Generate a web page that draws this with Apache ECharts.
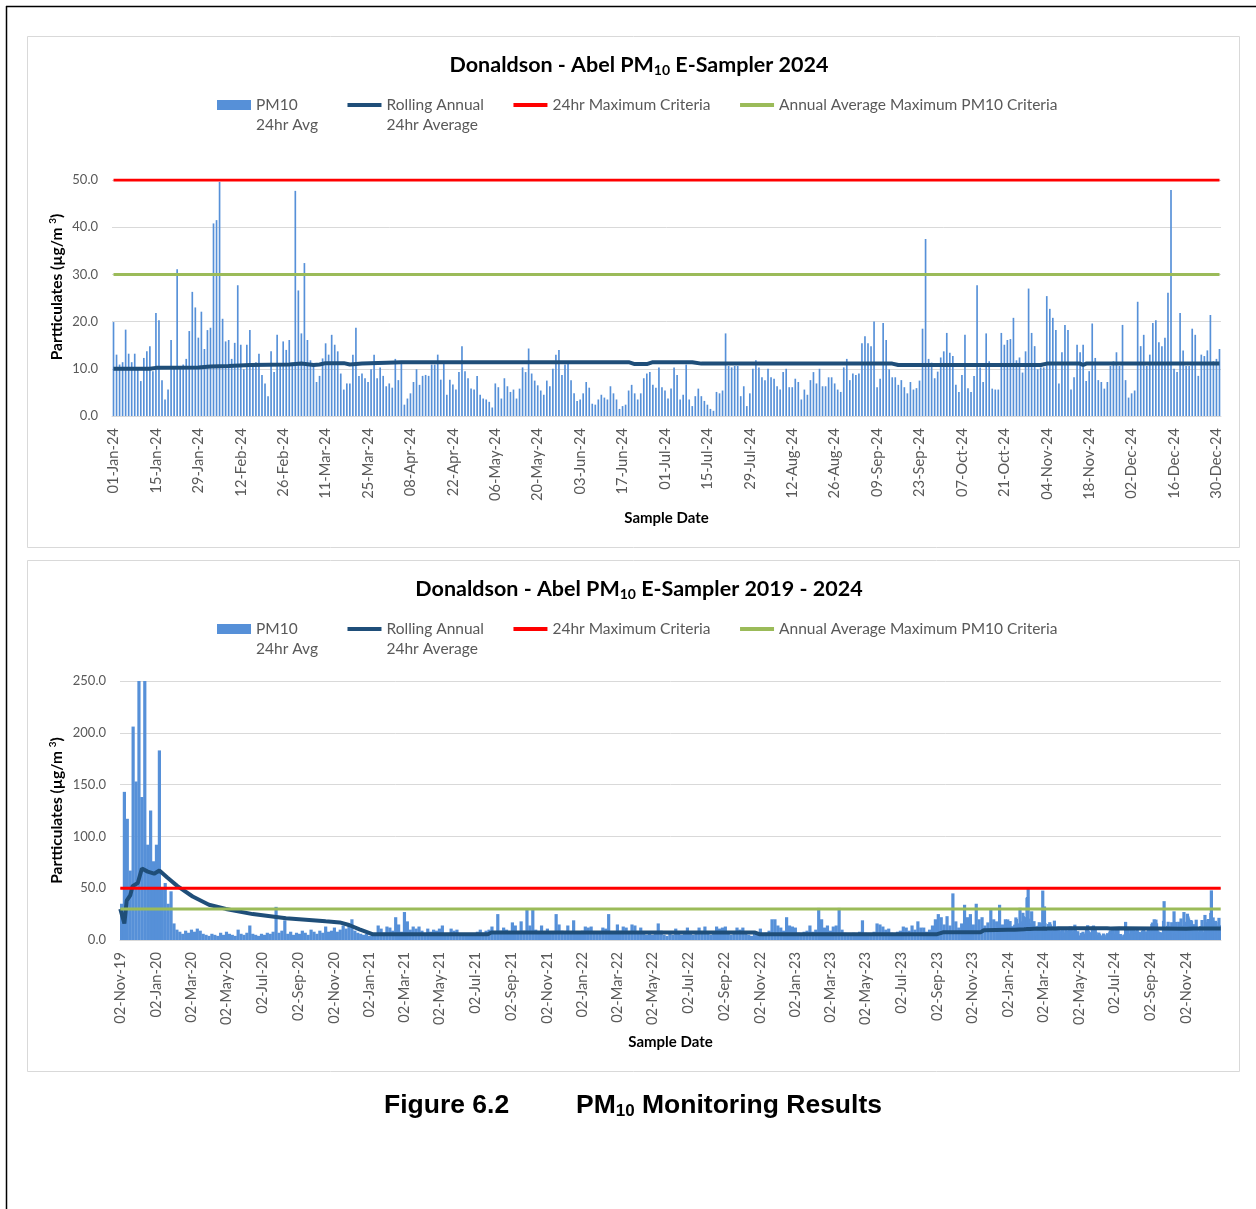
<!DOCTYPE html>
<html>
<head>
<meta charset="utf-8">
<script src="https://cdn.jsdelivr.net/npm/echarts@6/dist/echarts.min.js"></script>
<style>
html, body { margin: 0; padding: 0; background: #fff; }
#chart { width: 1256px; height: 1209px; }
</style>
</head>
<body>
<div id="chart"></div>
<script>
let chart = echarts.init(document.getElementById('chart'));

// daily PM10 24hr average, 01-Jan-24 .. 31-Dec-24
const pm2024 = [
  19.9, 13.0, 10.9, 11.4, 18.3, 13.2, 11.4, 13.2, 9.9, 7.4, 12.3, 13.7, 14.8, 9.5, 21.8, 20.3, 7.6, 3.5, 5.6, 16.1,
  10.5, 31.1, 10.6, 10.9, 12.1, 18.0, 26.3, 23.0, 16.6, 22.1, 14.2, 18.2, 18.7, 40.8, 41.5, 49.6, 20.6, 15.8, 16.1, 12.1,
  15.5, 27.7, 15.1, 9.9, 15.1, 18.2, 10.6, 11.4, 13.2, 8.7, 6.9, 4.2, 13.7, 9.3, 17.2, 11.0, 15.8, 14.0, 16.1, 11.3,
  47.7, 26.6, 17.5, 32.4, 16.1, 11.8, 10.9, 7.2, 8.5, 12.2, 15.4, 13.0, 17.2, 15.1, 13.7, 9.0, 5.6, 6.9, 6.9, 13.0,
  18.7, 8.5, 9.0, 8.0, 7.2, 9.9, 13.0, 8.0, 10.3, 8.5, 6.3, 6.9, 6.0,
  12.1, 7.6, 11.6, 2.4, 3.7, 4.8, 7.2, 9.9, 6.6, 8.5, 8.7, 8.5, 10.9, 10.9, 13.0, 7.7, 11.6, 4.5, 7.7, 6.7,
  5.6, 9.3, 14.8, 9.5, 8.0, 5.8, 5.6, 8.5, 4.5, 3.7, 3.5, 3.0, 1.8, 6.9, 6.1, 3.7, 8.0, 6.3, 5.1, 5.6,
  3.7, 5.8, 10.3, 9.3, 14.3, 9.0, 7.5, 6.5, 5.4, 4.5, 7.5, 6.3, 10.0, 13.0, 14.0, 8.7, 10.9, 11.6, 7.6, 4.8,
  3.2, 3.5, 4.8, 7.2, 6.0, 2.6, 2.4, 3.5, 4.5, 3.9, 3.5, 6.3, 4.8, 3.5, 1.5, 2.1, 2.4, 5.4, 6.6, 4.8,
  3.5, 4.8, 8.0, 9.0, 9.3, 6.6, 6.0, 10.3, 6.1, 5.4, 3.7, 5.8, 10.3, 8.7,
  3.5, 4.5, 10.9, 3.5, 2.1, 4.2, 5.8, 4.2, 3.2, 2.4, 1.5, 1.1, 5.1, 4.8, 5.4, 17.5, 10.6, 10.3, 10.6, 10.6,
  4.2, 6.3, 2.1, 4.8, 10.0, 11.8, 10.3, 8.2, 7.6, 10.0, 8.2, 7.9, 6.3, 5.6, 9.3, 10.0, 6.1, 6.1, 7.9, 7.2,
  3.5, 5.6, 4.5, 7.6, 9.3, 6.9, 10.0, 6.3, 6.3, 8.2, 8.2, 6.9, 5.6, 5.1, 10.3, 12.1, 7.6, 9.0, 8.7, 9.0,
  15.4, 16.9, 15.4, 14.8, 20.0, 6.1, 7.9, 19.7, 16.1, 9.9, 8.2, 8.2, 6.6, 7.6, 6.1, 4.8, 7.2, 5.6, 5.9, 7.5,
  18.5, 37.5, 12.1, 11.3, 8.0, 9.4, 12.4, 13.7, 17.6, 13.4, 12.7, 6.6, 5.1, 8.7,
  17.2, 5.9, 5.1, 8.5, 27.7, 10.3, 7.2, 17.5, 11.6, 5.8, 5.6, 5.6, 17.6, 15.1, 16.1, 16.3, 20.8, 11.8, 12.4, 9.2,
  13.7, 27.0, 17.6, 14.8, 9.9, 10.3, 10.3, 25.4, 22.7, 20.8, 18.2, 6.9, 13.5, 19.3, 18.2, 5.6, 8.2, 15.1, 13.5, 15.1,
  7.4, 9.5, 19.6, 12.3, 7.6, 7.2, 5.8, 7.2, 10.6, 11.6, 13.5, 10.6, 19.3, 7.6, 3.9, 4.8, 5.4, 24.2, 14.8, 17.2,
  10.6, 13.0, 19.7, 20.3, 15.6, 14.8, 16.6, 26.1, 47.9, 10.0, 9.3, 21.8, 13.9, 10.6, 10.6, 18.5, 17.2, 8.5, 13.0, 12.7,
  13.9, 21.4, 11.6, 12.1, 14.2
];

// rolling annual average, [day of 2024, value]
const rolling2024 = [
  [0, 10.0], [12, 10.0], [14, 10.2], [28, 10.3], [32, 10.5], [38, 10.6], [45, 10.8], [58, 10.9], [62, 11.1],
  [66, 10.8], [68, 10.9], [70, 11.2], [76, 11.2], [78, 10.9], [82, 11.1], [90, 11.3], [95, 11.4], [170, 11.4],
  [172, 11.0], [176, 11.0], [178, 11.4], [191, 11.4], [194, 11.1], [257, 11.1], [259, 10.8], [306, 10.8],
  [308, 11.1], [319, 11.1], [320, 10.8], [321, 11.1], [365, 11.1]
];

// 02-Nov-19 .. 31-Dec-23, one reading per 5 days
const histStep = 5;
const pmHist = [
  35, 143, 117, 67, 206, 153, 250, 138, 250, 92, 125, 76, 92, 183, 51, 55, 35, 47, 16, 10,
  8, 6, 9, 7, 10, 8, 11, 9, 6, 5, 4, 6, 5, 4, 7, 5, 8, 6, 5, 4, 10, 6, 5, 7, 14, 6, 5, 4, 6, 5,
  7, 6, 8, 32, 7, 9, 19, 6, 8, 5, 7, 6, 9, 7, 5, 10, 8, 6, 9, 7, 13, 8,
  9, 12, 8, 10, 14, 11, 16, 20, 9, 7, 6, 5, 6, 4, 5,
  6, 14, 11, 7, 13, 12, 9, 22, 15, 8, 27, 18, 10, 13, 11, 13, 9, 6, 11, 8,
  10, 9, 11, 14, 6, 5, 11, 9, 10, 5, 4, 5, 4, 6, 5, 8, 10, 7, 9, 10,
  13, 8, 25, 9, 12, 10, 7, 17, 14, 8, 18, 9, 30, 14, 30, 10, 7, 14, 8, 11,
  6, 8, 25, 15, 9, 7, 14, 8, 19, 7, 6, 9, 13, 12, 13, 7, 6, 8, 12, 11,
  25, 8, 7, 15, 9, 13, 12, 7, 15, 14, 8, 12, 6, 5,
  6, 5, 7, 16, 9, 5, 4, 6, 5, 11, 6, 5, 7, 12, 6, 5, 7, 12, 8, 13,
  6, 5, 8, 13, 11, 12, 13, 7, 5, 6, 12, 10, 12, 6, 5, 4, 6, 5, 11, 6, 7, 9, 20, 20,
  14, 12, 9, 22, 14, 13, 12, 7, 6, 8, 9, 14, 8, 10, 31, 20, 12, 14, 9, 13,
  14, 31, 10, 7, 6, 5, 7, 6, 8, 19, 7, 6, 5, 8, 16, 15, 13, 10, 11, 7,
  6, 8, 9, 13, 12, 9, 14, 10, 18, 12, 12, 8, 10, 14, 20,
  25, 22, 15, 23, 14, 45, 18, 12, 16, 34, 22, 25, 15, 35, 20, 22, 14, 17, 29, 20, 18, 34, 15, 20
];

// rolling annual average before 2024, [day since 02-Nov-19, value]
const rollingHist = [
  [0, 30], [7, 16], [11, 38], [17, 43], [21, 52], [30, 55], [37, 69], [47, 66], [58, 64], [67, 67],
  [81, 60], [98, 52], [124, 42], [152, 34], [181, 30], [227, 25], [284, 21], [352, 18], [376, 17],
  [392, 14.5], [410, 10.3], [432, 5.6], [630, 5.6], [636, 7.2], [1088, 7.2], [1095, 5.6], [1400, 5.6],
  [1410, 7.4], [1475, 7.6], [1480, 9.4], [1521, 9.9]
];

const maxCriteria = 50;
const annualCriteria = 30;

const names = ['PM10\n24hr Avg', 'Rolling Annual\n24hr Average', '24hr Maximum Criteria', 'Annual Average Maximum PM10 Criteria'];
const months = ['Jan', 'Feb', 'Mar', 'Apr', 'May', 'Jun', 'Jul', 'Aug', 'Sep', 'Oct', 'Nov', 'Dec'];

function fmtDate(t) {
  let d = new Date(t);
  let dd = String(d.getUTCDate()).padStart(2, '0');
  return dd + '-' + months[d.getUTCMonth()] + '-' + String(d.getUTCFullYear()).slice(2);
}
function dayList(start, end) {
  let out = [];
  for (let t = start; t <= end; t += 86400000) out.push(fmtDate(t));
  return out;
}

const days2024 = dayList(Date.UTC(2024, 0, 1), Date.UTC(2024, 11, 31));
const histStart = Date.UTC(2019, 10, 2);
const allDays = dayList(histStart, Date.UTC(2024, 11, 31));
const off2024 = Math.round((Date.UTC(2024, 0, 1) - histStart) / 86400000);

// bottom chart daily series built from the two arrays
let allDaily = new Array(allDays.length).fill(null);
pmHist.forEach((v, i) => { allDaily[i * histStep + 2] = v; });
pm2024.forEach((v, i) => { allDaily[off2024 + i] = v; });
let rollingAll = rollingHist.concat(rolling2024.map(p => [p[0] + off2024, p[1]]));

const FONT = 'Lato';
const grey = '#595959';
const barColor = '#5690D8';
// thick line icon inside a 34x10 box
const lineIcon = 'path://M0,0M0,3H34V7H0ZM34,10';

function titleOpt(text, top) {
  return {
    text: text, left: 634, top: top, textAlign: 'center',
    textStyle: {
      fontFamily: FONT, fontWeight: 'bold', fontSize: 21.5, color: '#000',
      rich: { sub: { fontFamily: FONT, fontWeight: 'bold', fontSize: 14, color: '#000', padding: [9, 0, 0, 0] } }
    }
  };
}
function legendOpt(top) {
  return {
    top: top, left: 212, itemWidth: 34, itemHeight: 10, itemGap: 29.5,
    itemStyle: { borderWidth: 0 },
    data: [
      { name: names[0], icon: 'rect' },
      { name: names[1], icon: lineIcon },
      { name: names[2], icon: lineIcon },
      { name: names[3], icon: lineIcon }
    ],
    // blank first line keeps the icon level with the first text line
    formatter: n => n.indexOf('\n') >= 0 ? '\n' + n : n,
    textStyle: { fontFamily: FONT, fontSize: 15.5, color: grey, lineHeight: 20 }
  };
}
function yAxisOpt(idx, max, interval, gap, pad) {
  return {
    type: 'value', gridIndex: idx, min: 0, max: max, interval: interval,
    name: 'Partticulates (µg/m {sup|3})', nameLocation: 'middle', nameGap: gap, nameMoveOverlap: false,
    nameTextStyle: {
      fontFamily: FONT, fontWeight: 'bold', fontSize: 15.5, color: '#000', padding: pad,
      rich: { sup: { fontFamily: FONT, fontWeight: 'bold', fontSize: 10, color: '#000', padding: [0, 0, 8, 0] } }
    },
    axisLine: { show: false }, axisTick: { show: false },
    axisLabel: { fontFamily: FONT, fontSize: 13, color: grey, margin: 14, formatter: v => v.toFixed(1) },
    splitLine: { lineStyle: { color: '#D9D9D9', width: 1 } }
  };
}
function xAxisOpt(idx, cats, interval) {
  return {
    type: 'category', gridIndex: idx, data: cats,
    name: 'Sample Date', nameLocation: 'middle', nameGap: 95,
    nameTextStyle: { fontFamily: FONT, fontWeight: 'bold', fontSize: 15, color: '#000' },
    axisLine: { lineStyle: { color: '#D9D9D9' } }, axisTick: { show: false },
    axisLabel: { rotate: 90, interval: interval, fontFamily: FONT, fontSize: 14.7, color: grey, margin: 12 }
  };
}
function seriesFor(idx, bars, barWidth, rolling, lastIdx) {
  return [
    { name: names[0], type: 'bar', xAxisIndex: idx, yAxisIndex: idx, data: bars, barWidth: barWidth,
      barGap: '-100%', clip: true, itemStyle: { color: barColor } },
    { name: names[1], type: 'line', xAxisIndex: idx, yAxisIndex: idx, data: rolling, symbol: 'none',
      lineStyle: { color: '#1F4E79', width: 4 }, itemStyle: { color: '#1F4E79' } },
    { name: names[2], type: 'line', xAxisIndex: idx, yAxisIndex: idx, data: [[0, maxCriteria], [lastIdx, maxCriteria]],
      symbol: 'none', lineStyle: { color: '#FF0000', width: 3 }, itemStyle: { color: '#FF0000' } },
    { name: names[3], type: 'line', xAxisIndex: idx, yAxisIndex: idx, data: [[0, annualCriteria], [lastIdx, annualCriteria]],
      symbol: 'none', lineStyle: { color: '#9BBB59', width: 3 }, itemStyle: { color: '#9BBB59' } }
  ];
}

chart.setOption({
  animation: false,
  backgroundColor: '#fff',
  title: [
    titleOpt('Donaldson - Abel PM{sub|10} E-Sampler 2024', 49),
    titleOpt('Donaldson - Abel PM{sub|10} E-Sampler 2019 - 2024', 573)
  ],
  legend: [legendOpt(70), legendOpt(594)],
  grid: [
    { left: 112, right: 35, top: 180, height: 236 },
    { left: 120, right: 35, top: 681, height: 259 }
  ],
  xAxis: [
    xAxisOpt(0, days2024, 13),
    xAxisOpt(1, allDays, (i, v) => /^02-(Nov|Jan|Mar|May|Jul|Sep)-/.test(v))
  ],
  yAxis: [yAxisOpt(0, 50, 10, 46, [0, 0, 0, 22]), yAxisOpt(1, 250, 50, 54, 0)],
  series: seriesFor(0, pm2024, '55%', rolling2024, days2024.length - 1)
    .concat(seriesFor(1, allDaily, 3.2, rollingAll, allDays.length - 1)),
  graphic: [
    { type: 'line', shape: { x1: 6, y1: 6.5, x2: 1256, y2: 6.5 }, style: { stroke: '#000', lineWidth: 1.5 } },
    { type: 'line', shape: { x1: 6.5, y1: 6, x2: 6.5, y2: 1209 }, style: { stroke: '#000', lineWidth: 1.5 } },
    { type: 'rect', shape: { x: 27.5, y: 36.5, width: 1212, height: 511 }, style: { fill: 'none', stroke: '#D9D9D9' } },
    { type: 'rect', shape: { x: 27.5, y: 560.5, width: 1212, height: 511 }, style: { fill: 'none', stroke: '#D9D9D9' } },
    { type: 'text', x: 384, y: 1106, style: { text: 'Figure 6.2', fontFamily: 'Liberation Sans', fontWeight: 'bold',
      fontSize: 26.5, fill: '#000', verticalAlign: 'middle' } },
    { type: 'text', x: 576, y: 1106, style: { text: 'PM{s|10} Monitoring Results', fontFamily: 'Liberation Sans',
      fontWeight: 'bold', fontSize: 26.5, fill: '#000', verticalAlign: 'middle',
      rich: { s: { fontFamily: 'Liberation Sans', fontWeight: 'bold', fontSize: 17, fill: '#000', padding: [10, 0, 0, 0] } } } }
  ]
});
</script>
</body>
</html>
